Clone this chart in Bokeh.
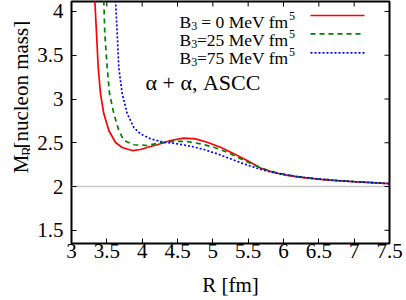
import math
from bokeh.plotting import figure
from bokeh.layouts import row
from bokeh.core.properties import value
from bokeh.models import Range1d, FixedTicker, NumeralTickFormatter, Span, Label
from bokeh.embed import file_html
from bokeh.resources import INLINE

# ---------------- data ----------------
r_b0 = [3.330, 3.354, 3.378, 3.410, 3.457, 3.528, 3.623, 3.717, 3.859, 3.976, 4.118,
        4.213, 4.401, 4.589, 4.755, 4.920, 5.108, 5.297, 5.486, 5.674, 5.858, 6.056,
        6.25, 6.523, 6.75, 6.990, 7.25, 7.50]
m_b0 = [4.126, 3.749, 3.360, 3.063, 2.834, 2.640, 2.503, 2.446, 2.411, 2.423, 2.457,
        2.477, 2.526, 2.552, 2.545, 2.506, 2.449, 2.374, 2.297, 2.212, 2.160, 2.128,
        2.105, 2.082, 2.068, 2.056, 2.045, 2.034]

r_b25 = [3.457, 3.471, 3.505, 3.538, 3.599, 3.669, 3.740, 3.882, 4.071, 4.259, 4.448,
         4.637, 4.825, 5.014, 5.203, 5.391, 5.580, 5.760, 5.95, 6.15, 6.40, 6.70,
         7.00, 7.25, 7.50]
m_b25 = [4.126, 3.749, 3.360, 3.063, 2.834, 2.640, 2.526, 2.477, 2.469, 2.499, 2.518,
         2.514, 2.488, 2.449, 2.392, 2.317, 2.248, 2.190, 2.148, 2.120, 2.094, 2.072,
         2.056, 2.045, 2.034]

r_b75 = [3.623, 3.647, 3.669, 3.717, 3.788, 3.882, 3.976, 4.118, 4.306, 4.496, 4.684,
         4.872, 5.062, 5.250, 5.438, 5.628, 5.80, 6.0, 6.2, 6.45, 6.70, 7.00, 7.25, 7.50]
m_b75 = [4.126, 3.749, 3.360, 3.063, 2.834, 2.674, 2.602, 2.545, 2.506, 2.488, 2.461,
         2.423, 2.374, 2.317, 2.259, 2.209, 2.170, 2.138, 2.113, 2.090, 2.072, 2.055,
         2.044, 2.033]

x_ticks = [3, 3.5, 4, 4.5, 5, 5.5, 6, 6.5, 7, 7.5]
y_ticks = [1.5, 2, 2.5, 3, 3.5, 4]
baseline_mass = 2.0

legend_names = ["= 0 MeV fm", "=25 MeV fm", "=75 MeV fm"]
colors = ["#ff0000", "#008000", "#0000ff"]
dashes = ["solid", "5 4", "2 2"]

# ---------------- layout (page pixels) ----------------
X_LO, X_HI = 3.0, 7.5
Y_LO, Y_HI = 1.349, 4.114
TOT_W, TOT_H = 406, 300
YL_W = 30                     # left strip holding the y-axis title
PW, PH = TOT_W - YL_W, TOT_H
FRAME_L, FRAME_R, FRAME_T, FRAME_B = 71, 389, 1, 243
ML, MR, MT = FRAME_L - YL_W, TOT_W - FRAME_R, FRAME_T
MB = PH - FRAME_B
XPX = (FRAME_R - FRAME_L) / (X_HI - X_LO)
YPX = (FRAME_B - FRAME_T) / (Y_HI - Y_LO)


def dx(px):
    return X_LO + (px - FRAME_L) / XPX


def dy(py):
    return Y_LO + (FRAME_B - py) / YPX


SERIF = "Liberation Serif"

p = figure(width=PW, height=PH, output_backend="svg", toolbar_location=None,
           x_range=Range1d(X_LO, X_HI), y_range=Range1d(Y_LO, Y_HI),
           min_border_left=ML, min_border_right=MR, min_border_top=MT,
           min_border_bottom=MB)
p.xgrid.visible = False
p.ygrid.visible = False
p.outline_line_color = "black"
p.outline_line_width = 2
p.background_fill_color = "white"
p.border_fill_color = "white"

fmt = NumeralTickFormatter(format="0.[0]")
for ax, ticks in ((p.xaxis[0], x_ticks), (p.yaxis[0], y_ticks)):
    ax.ticker = FixedTicker(ticks=ticks)
    ax.formatter = fmt
    ax.axis_line_color = None
    ax.major_tick_in = 5
    ax.major_tick_out = 0
    ax.minor_tick_in = 0
    ax.minor_tick_out = 0
    ax.major_tick_line_color = "black"
    ax.major_label_text_font = SERIF
    ax.major_label_text_font_size = "21px"
    ax.major_label_text_color = "black"
p.xaxis[0].major_label_standoff = 0
p.yaxis[0].major_label_standoff = 8
p.xaxis[0].axis_label = "R [fm]"
p.xaxis[0].axis_label_text_font = SERIF
p.xaxis[0].axis_label_text_font_size = "21px"
p.xaxis[0].axis_label_text_font_style = "normal"
p.xaxis[0].axis_label_text_color = "black"
p.xaxis[0].axis_label_standoff = 12

# mirrored (inward) ticks on the top and right frame edges
TL = 5
p.segment(x0=x_ticks, x1=x_ticks, y0=[Y_HI] * len(x_ticks),
          y1=[Y_HI - TL / YPX] * len(x_ticks), line_color="black", line_width=1)
p.segment(x0=[X_HI] * len(y_ticks), x1=[X_HI - TL / XPX] * len(y_ticks),
          y0=y_ticks, y1=y_ticks, line_color="black", line_width=1)

p.add_layout(Span(location=baseline_mass, dimension="width", line_color="#c8c8c8",
                  line_width=1.5, level="underlay"))

series = [(r_b0, m_b0), (r_b25, m_b25), (r_b75, m_b75)]
for (r, m), c, d in zip(series, colors, dashes):
    p.line(r, m, line_color=c, line_width=1.7, line_dash=d)


def plab(text, px, py, size, align="left"):
    p.add_layout(Label(x=dx(px), y=dy(py), text=text, text_font=SERIF,
                       text_font_size=size, text_color="black",
                       text_align=align, text_baseline="alphabetic"))


row_base = [21, 39, 57]
row_line = [15, 33.3, 52.3]
for name, c, d, yb, yl_ in zip(legend_names, colors, dashes, row_base, row_line):
    plab("B", 179, yb, "17.5px")
    plab("3", 190.7, yb + 4, "12px")
    plab(name, 288, yb, "17.5px", align="right")
    plab("5", 288.5, yb - 6, "12px")
    p.line([dx(310), dx(364)], [dy(yl_), dy(yl_)], line_color=c, line_width=1.7,
           line_dash=d)

plab("\u03b1 + \u03b1, ASCC", 145, 82, "22px")

# y-axis title  M_R[nucleon mass]  as rotated text glyphs in a narrow strip
yl = figure(width=YL_W, height=PH, output_backend="svg", toolbar_location=None,
            x_range=Range1d(0, YL_W), y_range=Range1d(0, PH),
            x_axis_location=None, y_axis_location=None, min_border=0)
yl.xgrid.visible = False
yl.ygrid.visible = False
yl.outline_line_color = None

A = math.pi / 2
ROT_FONT = "serif"
# anchors sit lower than the glyph starts to compensate the offset that
# rotated text shows in this renderer
yl.text(x=[20.5, 20.5], y=[PH - 213, PH - 182.3], text=["M", "[nucleon mass]"],
        angle=A, text_font=value(ROT_FONT), text_font_size=value("21px"),
        text_color="black", text_align="left", text_baseline="alphabetic")
yl.text(x=[26], y=[PH - 191.5], text=["R"], angle=A, text_font=value(ROT_FONT),
        text_font_size=value("15px"), text_color="black", text_align="left",
        text_baseline="alphabetic")

layout = row(yl, p)
open("out.html", "w").write(file_html(layout, INLINE))
